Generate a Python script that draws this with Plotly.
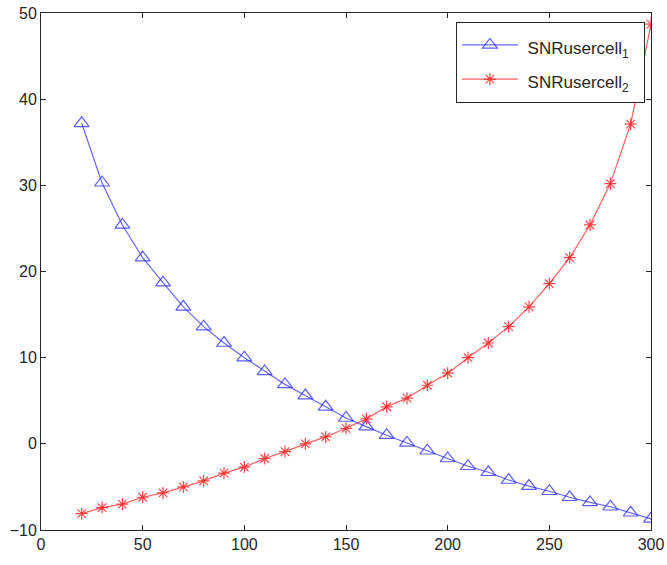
import plotly.graph_objects as go

x_vals = [20, 30, 40, 50, 60, 70, 80, 90, 100, 110, 120, 130, 140, 150, 160,
          170, 180, 190, 200, 210, 220, 230, 240, 250, 260, 270, 280, 290, 300]
snr_cell1 = [37.2, 30.3, 25.4, 21.6, 18.7, 15.9, 13.6, 11.7, 10.0, 8.4, 6.9, 5.6, 4.3, 3.0, 2.0,
             1.0, 0.1, -0.8, -1.7, -2.6, -3.3, -4.2, -4.9, -5.5, -6.2, -6.8, -7.3, -8.0, -8.7]
snr_cell2 = [-8.1, -7.4, -7.0, -6.2, -5.7, -5.0, -4.3, -3.4, -2.7, -1.7, -0.9, 0.0, 0.8, 1.8, 2.9,
             4.3, 5.3, 6.8, 8.2, 10.0, 11.7, 13.6, 15.9, 18.6, 21.6, 25.4, 30.2, 37.1, 48.7]
names = ["SNRusercell<sub>1</sub>", "SNRusercell<sub>2</sub>"]
x_ticks = [0, 50, 100, 150, 200, 250, 300]
y_ticks = [-10, 0, 10, 20, 30, 40, 50]


def legend_label(name):
    return '<span style="font-size:17px">&nbsp;' + name + '&nbsp;&nbsp;</span>'


fig = go.Figure()
fig.add_trace(go.Scatter(
    x=x_vals, y=snr_cell1, mode="lines+markers", name=legend_label(names[0]),
    line=dict(color="rgba(40,40,255,0.7)", width=1.2),
    marker=dict(symbol="triangle-up-open", size=13, color="rgba(40,40,255,0.75)",
                line=dict(width=1.2)),
))
fig.add_trace(go.Scatter(
    x=x_vals, y=snr_cell2, mode="lines+markers", name=legend_label(names[1]),
    line=dict(color="rgba(255,30,30,0.7)", width=1.2),
    marker=dict(symbol="asterisk-open", size=10, color="rgba(255,30,30,0.8)",
                line=dict(width=1.2, color="rgba(255,30,30,0.8)")),
))

axis_common = dict(
    showgrid=False, zeroline=False, showline=True, linecolor="#262626", linewidth=1,
    mirror="ticks", ticks="inside", ticklen=5, tickcolor="#262626", automargin=False,
    tickfont=dict(family="Liberation Sans, Arial, sans-serif", size=16, color="#262626"),
)
fig.update_xaxes(range=[0, 300], tickvals=x_ticks, **axis_common)
fig.update_yaxes(range=[-10, 50], tickvals=y_ticks, **axis_common)

fig.update_layout(
    width=667, height=565,
    margin=dict(l=41, r=16, t=13, b=35),
    paper_bgcolor="white", plot_bgcolor="white",
    showlegend=True,
    legend=dict(
        x=0.99, y=0.983, xanchor="right", yanchor="top",
        bgcolor="white", bordercolor="#262626", borderwidth=1,
        font=dict(family="Liberation Sans, Arial, sans-serif", size=24, color="#262626"),
        itemwidth=56,
    ),
)

fig.write_html("out.html")
